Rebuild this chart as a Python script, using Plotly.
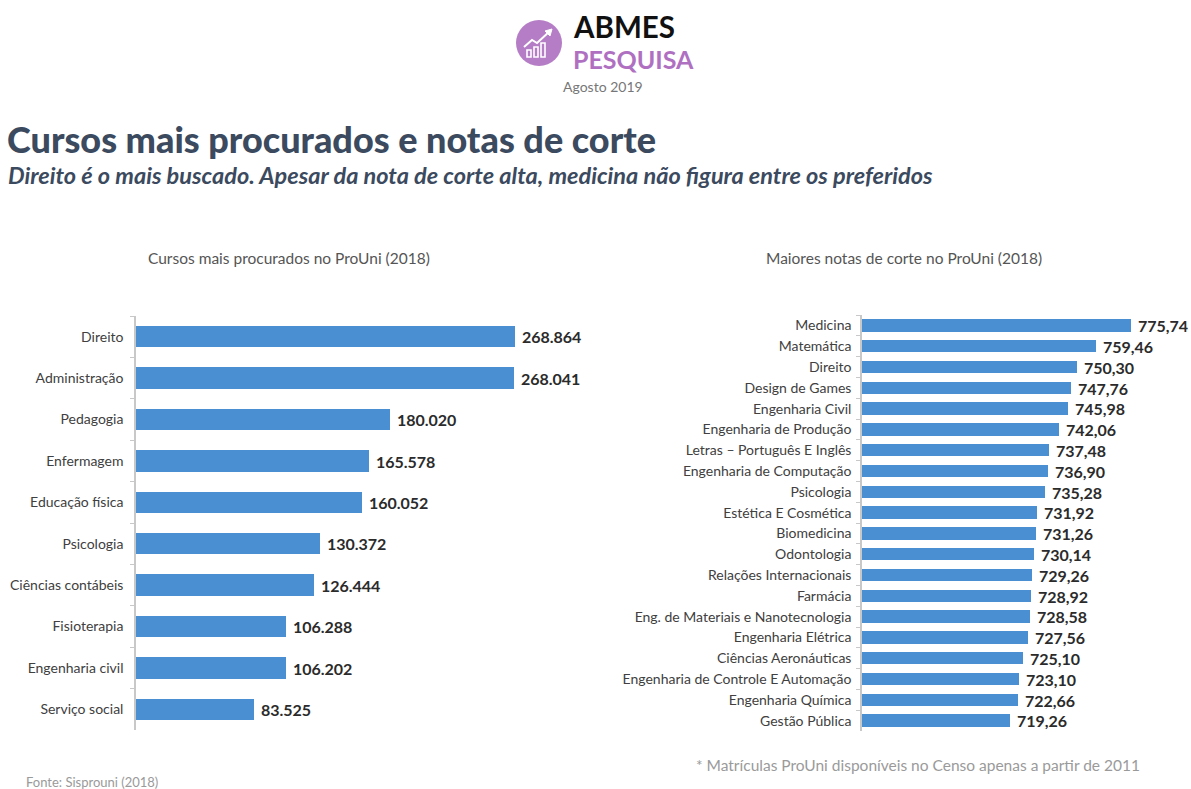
import plotly.graph_objects as go

W, H = 1191, 789
FONT = "Lato, 'Open Sans', sans-serif"
BAR = "#4a8fd1"
INK = "#3b4a5e"

# Left chart: most sought courses (ProUni 2018)
cursos = ["Direito", "Administração", "Pedagogia", "Enfermagem", "Educação física",
          "Psicologia", "Ciências contábeis", "Fisioterapia", "Engenharia civil",
          "Serviço social"]
procura = [268864, 268041, 180020, 165578, 160052, 130372, 126444, 106288, 106202, 83525]

# Right chart: highest cut-off scores (ProUni 2018)
cursos_nota = ["Medicina", "Matemática", "Direito", "Design de Games", "Engenharia Civil",
               "Engenharia de Produção", "Letras – Português E Inglês",
               "Engenharia de Computação", "Psicologia", "Estética E Cosmética",
               "Biomedicina", "Odontologia", "Relações Internacionais", "Farmácia",
               "Eng. de Materiais e Nanotecnologia", "Engenharia Elétrica",
               "Ciências Aeronáuticas", "Engenharia de Controle E Automação",
               "Engenharia Química", "Gestão Pública"]
notas = [775.74, 759.46, 750.30, 747.76, 745.98, 742.06, 737.48, 736.90, 735.28, 731.92,
         731.26, 730.14, 729.26, 728.92, 728.58, 727.56, 725.10, 723.10, 722.66, 719.26]


def px(x):
    return x / W


def py(y):
    return 1 - y / H


fig = go.Figure()

fig.add_trace(go.Bar(
    x=procura, y=cursos, orientation="h", width=0.52,
    marker=dict(color=BAR, line=dict(width=0)),
    texttemplate=" %{x:,.0f}", textposition="outside", cliponaxis=False,
    constraintext="none",
    textfont=dict(family=FONT, size=16, color="#2b2b2b", weight="bold"),
    hoverinfo="skip", xaxis="x", yaxis="y"))

fig.add_trace(go.Bar(
    x=notas, y=cursos_nota, orientation="h", width=0.6,
    marker=dict(color=BAR, line=dict(width=0)),
    texttemplate=" %{x:.2f}", textposition="outside", cliponaxis=False,
    constraintext="none",
    textfont=dict(family=FONT, size=16, color="#2b2b2b", weight="bold"),
    hoverinfo="skip", xaxis="x2", yaxis="y2"))

ycommon = dict(type="category", showline=True, linecolor="#c8c8c8", linewidth=1.5,
               ticks="outside", tickson="boundaries", ticklen=4, tickcolor="#c8c8c8",
               showgrid=False, zeroline=False, fixedrange=True,
               tickfont=dict(family=FONT, size=14, color="#404040"))

fig.update_layout(
    width=W, height=H, margin=dict(l=0, r=0, t=0, b=0),
    paper_bgcolor="white", plot_bgcolor="white", showlegend=False,
    separators=",.", bargap=0,
    font=dict(family=FONT),
    xaxis=dict(domain=[px(136), px(560)], range=[0, 300800], visible=False,
               anchor="y", fixedrange=True),
    yaxis=dict(domain=[py(730), py(316)], range=[len(cursos) - 0.5, -0.5],
               anchor="x", ticklabelstandoff=8, **ycommon),
    xaxis2=dict(domain=[px(862), px(1140)], range=[650, 779.8], visible=False,
                anchor="y2", fixedrange=True),
    yaxis2=dict(domain=[py(731), py(315)], range=[len(cursos_nota) - 0.5, -0.5],
                anchor="x2", ticklabelstandoff=6, **ycommon),
)

# Logo: purple circle with a white chart icon
shapes = [dict(type="circle", xref="paper", yref="paper",
               x0=px(516), x1=px(562), y0=py(66), y1=py(20),
               fillcolor="#b57dc6", line=dict(width=0))]
for x0, x1, ytop in [(527, 531, 50), (534, 538, 47), (541, 545, 43)]:
    shapes.append(dict(type="rect", xref="paper", yref="paper",
                       x0=px(x0), x1=px(x1), y0=py(57), y1=py(ytop),
                       line=dict(color="white", width=1.6)))
arrow = "M {} {} L {} {} L {} {} L {} {}".format(px(524), py(47), px(532), py(40),
                                                  px(537), py(43), px(550), py(31))
shapes.append(dict(type="path", xref="paper", yref="paper", path=arrow,
                   line=dict(color="white", width=2)))
head = "M {} {} L {} {} L {} {} Z".format(px(552), py(29), px(545), py(31),
                                          px(550), py(36))
shapes.append(dict(type="path", xref="paper", yref="paper", path=head,
                   fillcolor="white", line=dict(color="white", width=1)))
fig.update_layout(shapes=shapes)


def note(x, y, text, size, color, xanchor="left", weight="normal", style="normal"):
    fig.add_annotation(x=px(x), y=py(y), xref="paper", yref="paper", text=text,
                       showarrow=False, xanchor=xanchor, yanchor="middle", borderpad=0,
                       font=dict(family=FONT, size=size, color=color,
                                 weight=weight, style=style))


note(572, 27, "ABMES", 29.5, "#111111", weight="bold")
note(572, 59, "PESQUISA", 25, "#b070c2", weight="bold")
note(603, 87, "Agosto 2019", 14, "#777777", xanchor="center")

note(6, 139, "Cursos mais procurados e notas de corte", 36, INK, weight=900)
note(7, 175, "Direito é o mais buscado. Apesar da nota de corte alta, medicina não figura entre os preferidos",
     23.5, INK, weight="bold", style="italic")

note(289, 258, "Cursos mais procurados no ProUni (2018)", 15.5, "#555555", xanchor="center")
note(904, 258, "Maiores notas de corte no ProUni (2018)", 15.5, "#555555", xanchor="center")

note(25, 782, "Fonte: Sisprouni (2018)", 13, "#9a9a9a")
note(695, 765, "* Matrículas ProUni disponíveis no Censo apenas a partir de 2011", 15.5, "#9a9a9a")

# the default page has an 8px body margin; remove it so the figure sits at (0, 0)
fig.write_html("out.html", config={"displayModeBar": False},
               post_script="document.body.style.margin='0';")
